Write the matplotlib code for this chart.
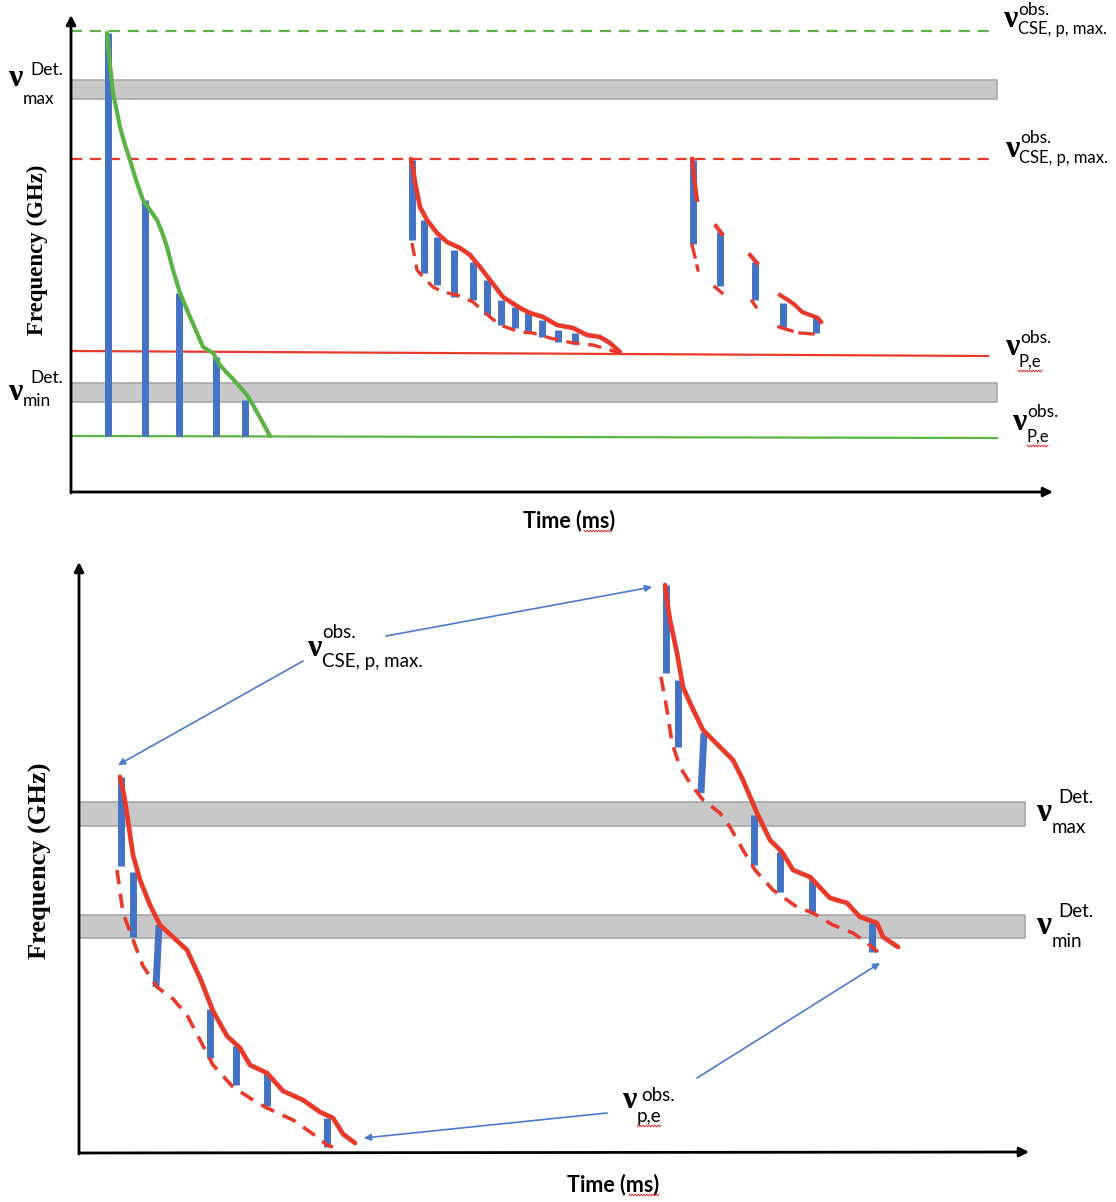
import numpy as np
import matplotlib
matplotlib.use("Agg")
import matplotlib.pyplot as plt

# ---------------- data (diagram units: time on x, frequency on y, pixel-like scale) ----------------
# Top panel
top_green_t = [107, 110, 113, 117, 120, 125, 130, 136, 143, 150, 157, 162, 167, 173, 180, 185, 190, 197, 203, 208, 213, 220, 227, 233, 240, 247, 253, 258, 263, 270]
top_green_f = [33, 65, 93, 112, 127, 145, 160, 180, 200, 210, 220, 232, 247, 270, 293, 305, 317, 333, 347, 350, 353, 365, 373, 379, 387, 395, 405, 414, 423, 436]
top_green_bar_t = [108, 145, 179, 216, 245]
top_green_bar_f = [33, 200, 293, 357, 400]
top_green_base = 436

top_red1_t = [411, 413, 415, 420, 427, 437, 447, 460, 470, 480, 490, 503, 520, 530, 543, 557, 573, 587, 600, 610, 620]
top_red1_f = [159, 168, 182, 207, 220, 233, 242, 248, 255, 267, 280, 297, 308, 313, 317, 325, 328, 335, 337, 343, 352]
top_red1_low_t = [412, 417, 423, 433, 443, 457, 473, 490, 500, 520, 533, 550, 573, 593, 603, 620]
top_red1_low_f = [243, 270, 277, 287, 292, 295, 302, 317, 325, 332, 333, 338, 343, 345, 348, 353]
top_red1_bar_t = [412, 424, 437, 454, 473, 487, 501, 515, 528, 542, 558, 575]
top_red1_bar_hi = [160, 220, 237, 250, 262, 280, 300, 307, 313, 320, 330, 333]
top_red1_bar_lo = [240, 273, 285, 297, 300, 315, 325, 328, 333, 337, 342, 344]

# second (fragmented) red burst in top panel
top_red2_solid = [
    ([692, 694, 697], [159, 176, 200]),
    ([716, 722], [226, 234]),
    ([750, 757], [255, 263]),
    ([780, 788, 795, 802, 810, 818, 821], [295, 300, 305, 312, 315, 318, 322]),
]
top_red2_dash = [
    ([692, 695], [245, 257]),
    ([697, 698], [266, 270]),
    ([715, 722], [287, 293]),
    ([752, 756], [301, 307]),
    ([779, 792], [327, 331]),
    ([800, 813], [333, 334]),
]
top_red2_bar_t = [693, 720, 755, 783, 816]
top_red2_bar_hi = [160, 232, 262, 303, 318]
top_red2_bar_lo = [244, 286, 300, 327, 333]

# reference levels top panel
top_green_max_f = 31
top_red_max_f = 159
top_red_pe_f = (351, 356)
top_green_pe_f = (436, 438)
top_det_bands = [(80, 99), (383, 402)]

# Bottom panel
bot_red_left_t = [120, 124, 127, 133, 140, 150, 160, 173, 187, 200, 213, 227, 240, 250, 267, 283, 303, 320, 333, 343, 355]
bot_red_left_f = [777, 795, 814, 855, 880, 905, 925, 937, 950, 978, 1011, 1036, 1048, 1065, 1073, 1091, 1100, 1112, 1118, 1134, 1143]
bot_red_left_low_t = [117, 123, 132, 143, 157, 173, 187, 200, 213, 233, 253, 267, 293, 313, 327, 333]
bot_red_left_low_f = [870, 913, 937, 966, 987, 999, 1015, 1040, 1065, 1087, 1100, 1108, 1120, 1134, 1145, 1147]
bot_left_bar_t0 = [121, 133, 159, 210, 236, 267, 327]
bot_left_bar_t1 = [121, 133, 156, 210, 236, 267, 327]
bot_left_bar_hi = [777, 872, 925, 1009, 1046, 1073, 1118]
bot_left_bar_lo = [866, 937, 987, 1058, 1085, 1106, 1147]

bot_red_right_t = [665, 667, 670, 677, 683, 690, 703, 713, 733, 743, 757, 770, 782, 793, 810, 830, 847, 860, 877, 883, 898]
bot_red_right_f = [585, 600, 620, 653, 687, 703, 730, 740, 760, 780, 813, 840, 852, 870, 877, 898, 903, 917, 923, 937, 947]
bot_red_right_low_t = [661, 667, 672, 680, 690, 703, 720, 730, 743, 755, 773, 797, 813, 833, 853, 867, 878]
bot_red_right_low_f = [677, 710, 743, 767, 783, 800, 813, 827, 850, 870, 890, 907, 913, 925, 933, 943, 952]
bot_right_bar_t0 = [666, 678, 704, 754, 780, 812, 872]
bot_right_bar_t1 = [666, 678, 701, 754, 780, 812, 872]
bot_right_bar_hi = [585, 680, 733, 815, 852, 880, 923]
bot_right_bar_lo = [673, 747, 793, 865, 892, 912, 952]

bot_det_bands = [(802, 826), (915, 938)]

# colours
BLUE = "#4472C4"
RED = "#E8392B"
GREEN = "#5BB346"
GRAY = "#C8C8C8"
GRAY_EDGE = "#A8A8A8"
ARROW = "#4A7BD0"

SANS = ["Lato", "DejaVu Sans"]
SERIF = ["Liberation Serif", "DejaVu Serif"]

fig = plt.figure(figsize=(11.16, 12.02), dpi=100)
ax = fig.add_axes([0, 0, 1, 1])
ax.set_xlim(0, 1116)
ax.set_ylim(1202, 0)
ax.axis("off")


def axis_arrow(x0, y0, x1, y1):
    ax.annotate("", xy=(x1, y1), xytext=(x0, y0),
                arrowprops=dict(arrowstyle="-|>", color="black", lw=2.0,
                                mutation_scale=14, shrinkA=0, shrinkB=0))


def band(y0, y1, x0, x1):
    ax.barh((y0 + y1) / 2, x1 - x0, left=x0, height=(y1 - y0),
            color=GRAY, edgecolor=GRAY_EDGE, linewidth=1.2, zorder=1)


def squiggle(x0, x1, y):
    xs = np.arange(x0, x1 + 0.1, 1.5)
    ys = y + np.where(np.arange(len(xs)) % 2 == 0, -0.9, 0.9)
    ax.plot(xs, ys, color="#E03030", lw=0.7, zorder=6)


def nu_label(xn, yn, sup, xs, ys, sub, xb, yb, size=23, ssize=12.5, bsize=None):
    if bsize is None:
        bsize = ssize
    ax.text(xn, yn, "ν", fontsize=size, fontweight="bold", family=SERIF,
            ha="left", va="baseline", zorder=7)
    ax.text(xs, ys, sup, fontsize=ssize, family=SANS, ha="left", va="baseline", zorder=7)
    ax.text(xb, yb, sub, fontsize=bsize, family=SANS, ha="left", va="baseline", zorder=7)


# ---------------- top panel ----------------
for (a, b) in top_det_bands:
    band(a, b, 71, 997)

ax.plot([71, 995], [top_green_max_f] * 2, color=GREEN, lw=1.6, dashes=(5, 3.5), zorder=2)
ax.plot([71, 995], [top_red_max_f] * 2, color=RED, lw=1.6, dashes=(5, 3.5), zorder=2)
ax.plot([71, 988], list(top_red_pe_f), color=RED, lw=1.6, zorder=2)
ax.plot([71, 997], list(top_green_pe_f), color=GREEN, lw=1.6, zorder=2)

ax.vlines(top_green_bar_t, top_green_bar_f, top_green_base, color=BLUE, lw=5, zorder=3)
ax.plot(top_green_t, top_green_f, color=GREEN, lw=3, solid_capstyle="round",
        solid_joinstyle="round", zorder=4)

ax.vlines(top_red1_bar_t, top_red1_bar_hi, top_red1_bar_lo, color=BLUE, lw=5, zorder=3)
ax.plot(top_red1_low_t, top_red1_low_f, color=RED, lw=2.4, dashes=(4, 2.6), zorder=4)
ax.plot(top_red1_t, top_red1_f, color=RED, lw=3.3, solid_capstyle="round",
        solid_joinstyle="round", zorder=4)

ax.vlines(top_red2_bar_t, top_red2_bar_hi, top_red2_bar_lo, color=BLUE, lw=5, zorder=3)
for xs_, ys_ in top_red2_solid:
    ax.plot(xs_, ys_, color=RED, lw=3.0, zorder=4)
for xs_, ys_ in top_red2_dash:
    ax.plot(xs_, ys_, color=RED, lw=2.4, zorder=4)

axis_arrow(71, 493, 71, 15)
axis_arrow(71, 492, 1053, 492)

ax.text(37, 250, "Frequency (GHz)", rotation=90, fontsize=16.5, fontweight="bold",
        family=SERIF, ha="center", va="center")
ax.text(569, 527, "Time (ms)", fontsize=15.5, fontweight="bold", family=SANS,
        ha="center", va="baseline")
squiggle(584, 611, 531)

nu_label(8, 86, "Det.", 30, 75, "max", 23, 104, ssize=12.5)
nu_label(8, 400, "Det.", 30, 383, "min", 23, 406, ssize=12.5)
nu_label(1003, 27, "obs.", 1018, 15, "CSE, p, max.", 1018, 34, ssize=12.5, bsize=12)
nu_label(1005, 157, "obs.", 1020, 143, "CSE, p, max.", 1019, 163, ssize=12.5, bsize=12)
nu_label(1005, 355, "obs.", 1020, 343, "P,e", 1018, 367, ssize=12.5, bsize=12)
squiggle(1018, 1042, 371)
nu_label(1012, 430, "obs.", 1027, 417, "P,e", 1027, 442, ssize=12.5, bsize=12)
squiggle(1027, 1048, 446)

# ---------------- bottom panel ----------------
for (a, b) in bot_det_bands:
    band(a, b, 79, 1025)

for t0, t1, hi, lo in zip(bot_left_bar_t0, bot_left_bar_t1, bot_left_bar_hi, bot_left_bar_lo):
    ax.plot([t0, t1], [hi, lo], color=BLUE, lw=5, solid_capstyle="butt", zorder=3)
for t0, t1, hi, lo in zip(bot_right_bar_t0, bot_right_bar_t1, bot_right_bar_hi, bot_right_bar_lo):
    ax.plot([t0, t1], [hi, lo], color=BLUE, lw=5, solid_capstyle="butt", zorder=3)

ax.plot(bot_red_left_low_t, bot_red_left_low_f, color=RED, lw=2.6, dashes=(4, 2.6), zorder=4)
ax.plot(bot_red_left_t, bot_red_left_f, color=RED, lw=3.4, solid_capstyle="round",
        solid_joinstyle="round", zorder=4)
ax.plot(bot_red_right_low_t, bot_red_right_low_f, color=RED, lw=2.6, dashes=(4, 2.6), zorder=4)
ax.plot(bot_red_right_t, bot_red_right_f, color=RED, lw=3.4, solid_capstyle="round",
        solid_joinstyle="round", zorder=4)

axis_arrow(79, 1154, 79, 562)
axis_arrow(79, 1153, 1029, 1152)

ax.text(40, 861, "Frequency (GHz)", rotation=90, fontsize=19, fontweight="bold",
        family=SERIF, ha="center", va="center")
ax.text(613, 1191, "Time (ms)", fontsize=15.5, fontweight="bold", family=SANS,
        ha="center", va="baseline")
squiggle(629, 660, 1195)

nu_label(1037, 821, "Det.", 1058, 803, "max", 1052, 833, size=24, ssize=13.5)
nu_label(1037, 934, "Det.", 1058, 917, "min", 1052, 947, size=24, ssize=13.5)
nu_label(307, 656, "obs.", 322, 638, "CSE, p, max.", 322, 667, size=23, ssize=13.5)
nu_label(622, 1108, "obs.", 641, 1101, "p,e", 637, 1122, size=23, ssize=13.5)
squiggle(637, 662, 1126)

arrow_kw = dict(arrowstyle="-|>", color=ARROW, lw=1.2, mutation_scale=10, shrinkA=0, shrinkB=0)
ax.annotate("", xy=(652, 587), xytext=(386, 636), arrowprops=arrow_kw)
ax.annotate("", xy=(118, 765), xytext=(303, 661), arrowprops=arrow_kw)
ax.annotate("", xy=(364, 1138), xytext=(607, 1113), arrowprops=arrow_kw)
ax.annotate("", xy=(880, 963), xytext=(697, 1078), arrowprops=arrow_kw)

fig.savefig("out.png", dpi=100)
